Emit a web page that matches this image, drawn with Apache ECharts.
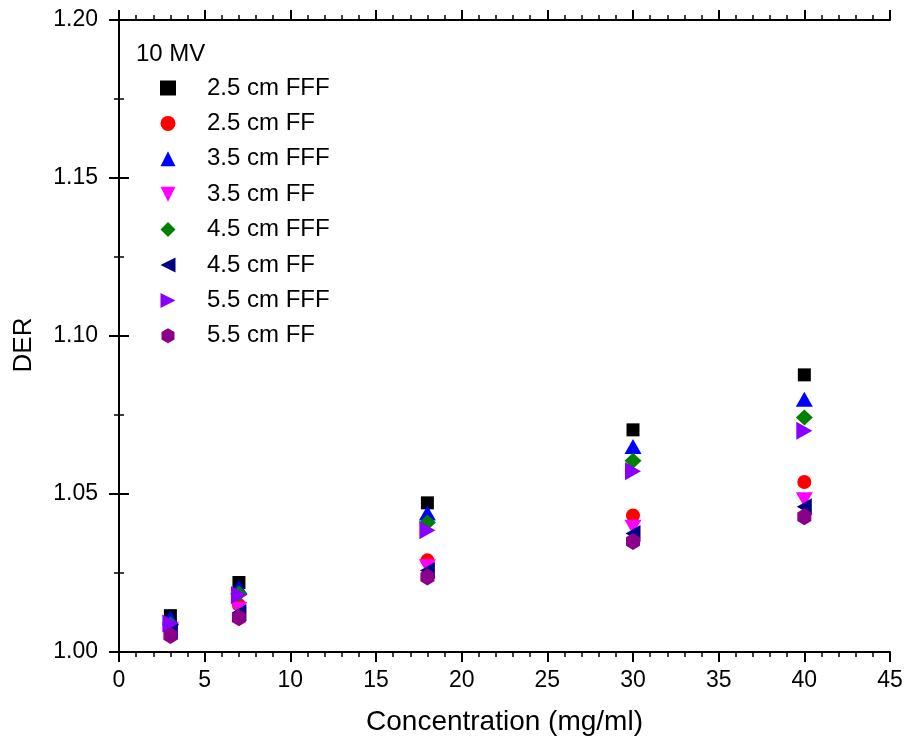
<!DOCTYPE html>
<html><head><meta charset="utf-8">
<script src="https://cdn.jsdelivr.net/npm/echarts@6/dist/echarts.min.js"></script>
<style>html,body{margin:0;padding:0;background:#fff}#c{width:906px;height:746px}</style>
</head><body><div id="c"></div>
<script>
const xValues = [3, 7, 18, 30, 40];
const seriesNames = ['2.5 cm FFF','2.5 cm FF','3.5 cm FFF','3.5 cm FF','4.5 cm FFF','4.5 cm FF','5.5 cm FFF','5.5 cm FF'];
const s25FFF = [1.0115, 1.0220, 1.0472, 1.0703, 1.0877];
const s25FF  = [1.0075, 1.0149, 1.0290, 1.0432, 1.0538];
const s35FFF = [1.0108, 1.0204, 1.0440, 1.0650, 1.0800];
const s35FF  = [1.0072, 1.0135, 1.0270, 1.0395, 1.0482];
const s45FFF = [1.0088, 1.0185, 1.0410, 1.0605, 1.0742];
const s45FF  = [1.0066, 1.0124, 1.0258, 1.0375, 1.0460];
const s55FFF = [1.0090, 1.0180, 1.0385, 1.0572, 1.0700];
const s55FF  = [1.0052, 1.0108, 1.0237, 1.0350, 1.0428];
const yTicks = ['1.00','1.05','1.10','1.15','1.20'];

const colors = ['#000000','#ff0000','#0000ff','#ff00ff','#008000','#000080','#8a00ff','#8b008b'];
const hex = 'path://M0,-1 L0.866,-0.5 L0.866,0.5 L0,1 L-0.866,0.5 L-0.866,-0.5 Z';
const diamond = 'path://M0,-1 L1,0 L0,1 L-1,0 Z';
const triUp = 'path://M0,-1 L1,1 L-1,1 Z';
const triDown = 'path://M-1,-1 L1,-1 L0,1 Z';
const triLeft = 'path://M1,-1 L1,1 L-1,0 Z';
const triRight = 'path://M-1,-1 L-1,1 L1,0 Z';
const symbols = ['rect','circle',triUp,triDown,diamond,triLeft,triRight,hex];
const sizes = [13,14,[17,15],[17,15],[17,16],[15,17],[16,18],[14,17]];
const allData = [s25FFF,s25FF,s35FFF,s35FF,s45FFF,s45FF,s55FFF,s55FF];

const font = 'Liberation Sans, Arial, sans-serif';
const axisLine = {show:true, lineStyle:{color:'#000', width:2}};
const chart = echarts.init(document.getElementById('c'));
const base = {min:0, max:45, interval:5, axisLine, splitLine:{show:false},
  axisTick:{show:true, inside:false, length:10, lineStyle:{color:'#000',width:2}},
  minorTick:{show:true, splitNumber:5, length:5, lineStyle:{color:'#000',width:1.5}}};
const ybase = {min:1.0, max:1.2, interval:0.05, axisLine, splitLine:{show:false},
  axisTick:{show:true, inside:false, length:10, lineStyle:{color:'#000',width:2}},
  minorTick:{show:true, splitNumber:2, length:5, lineStyle:{color:'#000',width:1.5}}};

chart.setOption({
  animation:false,
  backgroundColor:'#fff',
  title:{text:'10 MV', left:131, top:37, textStyle:{fontFamily:font, fontSize:24, fontWeight:'normal', color:'#000', lineHeight:24}},
  legend:{orient:'vertical', left:155, top:71, itemGap:11.4, itemWidth:16, itemHeight:15,
    data:seriesNames.map((n,i)=>({name:n, icon:symbols[i]})),
    textStyle:{fontFamily:font, fontSize:24, color:'#000', lineHeight:24, padding:[0,0,0,26]}},
  grid:{left:119, right:16, top:20, bottom:94},
  xAxis:[
    Object.assign({}, base, {type:'value', position:'bottom', name:'Concentration (mg/ml)', nameLocation:'middle', nameGap:56,
      nameTextStyle:{fontFamily:font, fontSize:28, color:'#000'},
      axisLabel:{fontFamily:font, fontSize:23, color:'#000', margin:17}}),
    Object.assign({}, base, {type:'value', position:'top', axisLabel:{show:false}})
  ],
  yAxis:[
    Object.assign({}, ybase, {type:'value', position:'left', name:'DER', nameLocation:'middle', nameGap:82,
      nameTextStyle:{fontFamily:font, fontSize:26, color:'#000', padding:[0,18,0,0]},
      axisLabel:{fontFamily:font, fontSize:23, color:'#000', margin:21, formatter:(v)=>yTicks.find(t=>Math.abs(parseFloat(t)-v)<1e-6) || ''}}),
    Object.assign({}, ybase, {type:'value', position:'right', axisLabel:{show:false}})
  ],
  series: seriesNames.map((n,i)=>({
    name:n, type:'scatter', symbol:symbols[i], symbolSize:sizes[i],
    itemStyle:{color:colors[i], opacity:1},
    data: xValues.map((x,j)=>[x, allData[i][j]])
  }))
});
</script></body></html>
